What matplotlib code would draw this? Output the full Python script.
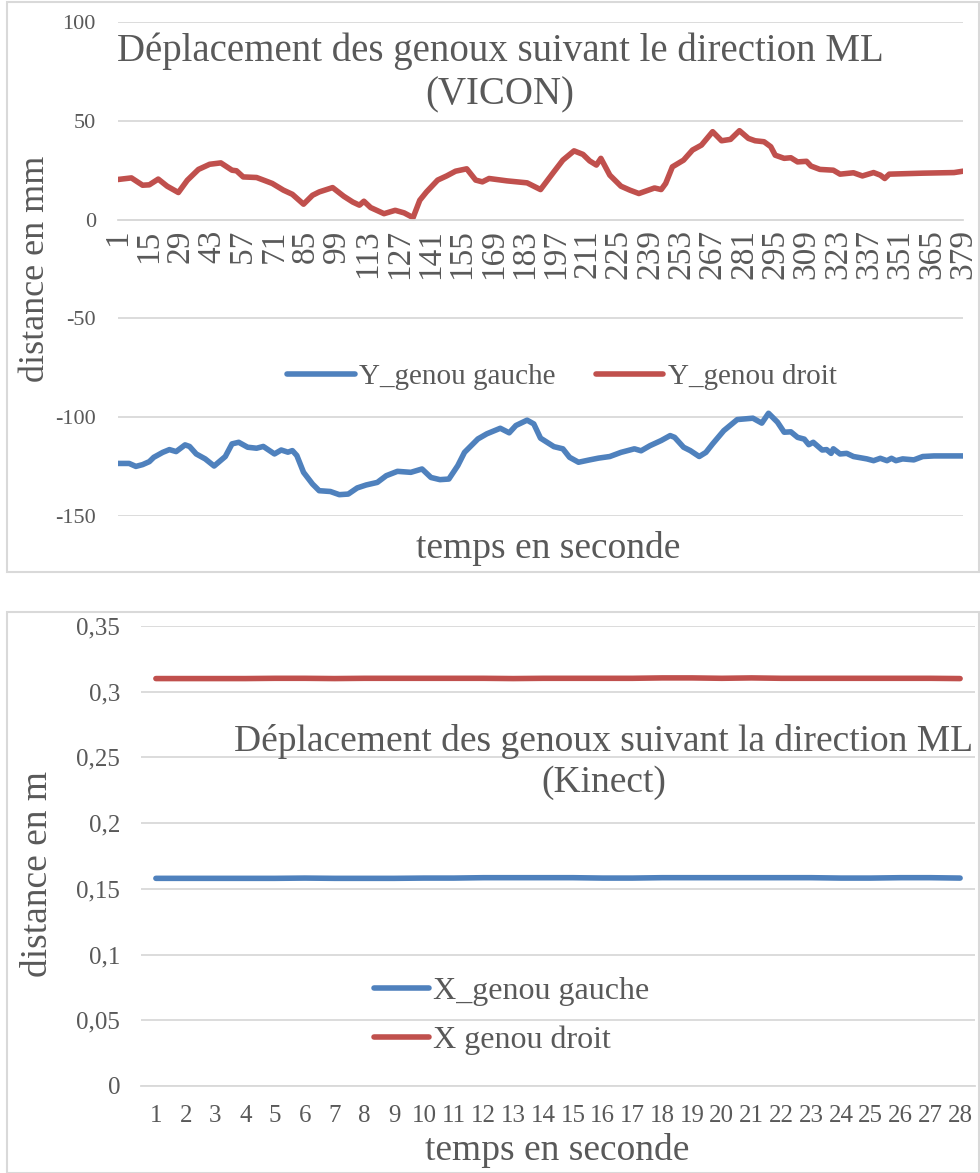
import matplotlib
matplotlib.use("Agg")
import matplotlib.pyplot as plt
from matplotlib.patches import Rectangle

# ---------------- data ----------------
# VICON (top): sample index -> displacement (mm)
vicon_idx_droit = [1, 7, 12, 15, 19, 23, 28, 32, 37, 42, 47, 52, 54, 57, 63, 67, 70, 75, 79, 84,
                   88, 91, 97, 102, 106, 109, 111, 114, 120, 125, 129, 133, 136, 139, 144, 148, 152, 157, 161, 164,
                   167, 175, 184, 190, 196, 200, 205, 209, 212, 215, 217, 221, 226, 230, 234, 237, 241, 244, 246, 249,
                   254, 258, 262, 267, 271, 275, 279, 283, 286, 290, 293, 295, 299, 302, 305, 309, 311, 315, 321, 324,
                   330, 334, 339, 342, 344, 346, 361, 375, 379]
vicon_droit = [20.3, 21.1, 17.4, 17.6, 20.5, 16.9, 13.7, 19.9, 25.4, 28.0, 28.7, 25.0, 24.7, 21.6, 21.3, 19.6, 18.3, 14.9, 12.8, 7.8,
               12.3, 14.0, 16.2, 11.8, 8.9, 7.3, 9.3, 6.1, 3.0, 4.7, 3.4, 1.0, 9.8, 14.0, 20.0, 22.1, 24.5, 25.7, 20.0, 19.1,
               20.8, 19.6, 18.6, 15.2, 24.2, 30.1, 34.8, 33.0, 29.7, 27.6, 31.0, 22.5, 16.9, 14.9, 13.2, 14.4, 16.0, 15.2, 18.3, 26.7,
               30.1, 35.2, 37.7, 44.5, 39.9, 40.6, 45.0, 41.1, 39.9, 39.4, 36.9, 32.6, 31.0, 31.3, 29.2, 29.5, 27.1, 25.4, 25.0, 23.0,
               23.7, 22.1, 23.8, 22.5, 20.8, 23.0, 23.5, 23.8, 24.5]

vicon_idx_gauche = [1, 6, 9, 12, 15, 17, 21, 24, 27, 31, 33, 36, 40, 44, 49, 52, 55, 59, 63, 66,
                    71, 74, 77, 79, 81, 84, 88, 91, 96, 100, 104, 108, 112, 117, 121, 126, 132, 137, 141, 145,
                    149, 153, 156, 162, 166, 172, 176, 179, 184, 187, 190, 196, 200, 203, 207, 212, 216, 221, 226, 232,
                    235, 239, 244, 248, 250, 254, 257, 261, 264, 267, 272, 278, 285, 289, 292, 296, 299, 302, 305, 308,
                    310, 312, 316, 318, 320, 321, 324, 327, 330, 336, 339, 342, 345, 347, 349, 352, 357, 361, 366, 379]
vicon_gauche = [-123.4, -123.4, -124.9, -124.0, -122.5, -120.3, -117.8, -116.4, -117.4, -114.0,
                -114.8, -118.6, -121.1, -124.7, -119.9, -113.5, -112.7, -115.2, -115.7, -114.8,
                -118.6, -116.6, -117.7, -116.9, -119.4, -127.9, -133.8, -137.2, -137.6, -139.2,
                -138.9, -135.8, -134.3, -133.0, -129.6, -127.4, -127.9, -126.2, -130.5, -131.6,
                -131.3, -124.5, -117.8, -111.0, -108.4, -105.6, -107.9, -104.2, -101.5, -103.4,
                -110.6, -114.9, -116.0, -120.3, -122.8, -121.6, -120.7, -119.9, -117.8, -116.0,
                -117.0, -114.4, -111.8, -109.3, -110.2, -115.2, -116.9, -119.9, -117.8, -113.5,
                -106.8, -101.2, -100.5, -103.0, -98.0, -102.5, -107.6, -107.4, -110.2, -111.1,
                -113.9, -112.7, -116.6, -116.4, -118.3, -116.0, -118.6, -118.3, -119.9, -121.1,
                -122.0, -120.8, -122.0, -120.8, -122.0, -121.1, -121.6, -119.9, -119.6, -119.6]

vicon_xticks = list(range(1, 380, 14))
vicon_yticks = [100, 50, 0, -50, -100, -150]
vicon_yticklabels = ["100", "50", "0", "-50", "-100", "-150"]

# Kinect (bottom): seconds -> displacement (m)
kinect_t = list(range(1, 29))
kinect_gauche = [0.158, 0.158, 0.158, 0.158, 0.158, 0.1582, 0.158, 0.158, 0.158, 0.1582,
                 0.1582, 0.1585, 0.1585, 0.1585, 0.1585, 0.1582, 0.1582, 0.1585, 0.1585, 0.1585,
                 0.1585, 0.1585, 0.1585, 0.1582, 0.1582, 0.1585, 0.1585, 0.1582]
kinect_droit = [0.310, 0.310, 0.310, 0.310, 0.3102, 0.3102, 0.310, 0.3102, 0.3102, 0.3102,
                0.3102, 0.3102, 0.310, 0.3102, 0.3102, 0.3102, 0.3102, 0.3105, 0.3105, 0.3102,
                0.3105, 0.3102, 0.3102, 0.3102, 0.3102, 0.3102, 0.3102, 0.3100]
kinect_yticks = [0, 0.05, 0.1, 0.15, 0.2, 0.25, 0.3, 0.35]
kinect_yticklabels = ["0", "0,05", "0,1", "0,15", "0,2", "0,25", "0,3", "0,35"]

# ---------------- style ----------------
plt.rcParams['font.family'] = ['Liberation Serif', 'DejaVu Serif']
TXT = '#595959'
GRID = '#d9d9d9'
BLUE = '#4f81bd'
RED = '#c0504d'
LW = 4.0
W, H = 980, 1173

fig = plt.figure(figsize=(W / 100, H / 100), dpi=100)

# panel borders
fig.patches.append(Rectangle((7 / W, 1 - 572 / H), 972 / W, 570 / H, transform=fig.transFigure,
                             fill=False, edgecolor=GRID, lw=1.5))
fig.patches.append(Rectangle((7 / W, 0.0), 972 / W, 1 - 612 / H, transform=fig.transFigure,
                             fill=False, edgecolor=GRID, lw=1.5))

# ---------------- top chart ----------------
ax1 = fig.add_axes([118 / W, 1 - 516 / H, 845 / W, 494 / H])
for s in ['top', 'right', 'left']:
    ax1.spines[s].set_visible(False)
ax1.spines['bottom'].set_position(('data', 0))
ax1.spines['bottom'].set_color(GRID)
ax1.spines['bottom'].set_linewidth(1.3)
ax1.plot(vicon_idx_gauche, vicon_gauche, color=BLUE, lw=LW, solid_joinstyle='round',
         solid_capstyle='round', label='Y_genou gauche')
ax1.plot(vicon_idx_droit, vicon_droit, color=RED, lw=LW, solid_joinstyle='round',
         solid_capstyle='round', label='Y_genou droit')
ax1.set_xlim(1, 379)
ax1.set_ylim(-150, 100)
ax1.set_yticks(vicon_yticks)
ax1.set_yticklabels(vicon_yticklabels)
ax1.set_xticks(vicon_xticks)
ax1.set_xticklabels([str(v) for v in vicon_xticks])
ax1.grid(axis='y', color=GRID, lw=1.3)
ax1.set_axisbelow(True)
ax1.tick_params(axis='y', length=0, pad=16, labelsize=16, labelcolor=TXT)
ax1.tick_params(axis='x', length=0, pad=7, labelsize=24, labelcolor=TXT, labelrotation=90)
for lab in ax1.get_xticklabels():
    lab.set_va('top')
    lab.set_ha('center')
ax1.text(0.452, 0.897, "Déplacement des genoux suivant le direction ML\n(VICON)",
         transform=ax1.transAxes, ha='center', va='center', fontsize=28, color=TXT,
         linespacing=1.25)
ax1.set_ylabel("distance en mm", fontsize=26, color=TXT)
ax1.yaxis.set_label_coords((35 - 118) / 845, 0.5)
ax1.yaxis.label.set_va('center')
ax1.set_xlabel("temps en seconde", fontsize=27, color=TXT)
ax1.xaxis.set_label_coords((548 - 118) / 845, (516 - 548) / 494)
ax1.xaxis.label.set_va('center')
leg1 = ax1.legend(loc='center', bbox_to_anchor=((562 - 118) / 845, (516 - 377) / 494), ncol=2,
                  frameon=False, fontsize=21, handlelength=2.3, handletextpad=0.15,
                  columnspacing=1.4, labelcolor=TXT)

# ---------------- bottom chart ----------------
ax2 = fig.add_axes([141 / W, 1 - 1086 / H, 834 / W, 460 / H])
ax2.plot(kinect_t, kinect_gauche, color=BLUE, lw=LW, solid_capstyle='round', label='X_genou gauche')
ax2.plot(kinect_t, kinect_droit, color=RED, lw=LW, solid_capstyle='round', label='X genou droit')
ax2.set_xlim(0.5, 28.5)
ax2.set_ylim(0, 0.35)
ax2.set_yticks(kinect_yticks)
ax2.set_yticklabels(kinect_yticklabels)
ax2.set_xticks(kinect_t)
ax2.set_xticklabels([str(v) for v in kinect_t])
ax2.grid(axis='y', color=GRID, lw=1.3)
ax2.set_axisbelow(True)
for s in ['top', 'right', 'left']:
    ax2.spines[s].set_visible(False)
ax2.spines['bottom'].set_color(GRID)
ax2.spines['bottom'].set_linewidth(1.3)
ax2.tick_params(axis='y', length=0, pad=15, labelsize=18, labelcolor=TXT)
ax2.tick_params(axis='x', length=0, pad=14, labelsize=18, labelcolor=TXT)
ax2.text((604 - 141) / 834, (1086 - 762) / 460, "Déplacement des genoux suivant la direction ML\n(Kinect)",
         transform=ax2.transAxes, ha='center', va='center', fontsize=27, color=TXT, linespacing=1.25)
ax2.set_ylabel("distance en m", fontsize=27, color=TXT)
ax2.yaxis.set_label_coords((38 - 141) / 834, 0.46)
ax2.yaxis.label.set_va('center')
ax2.set_xlabel("temps en seconde", fontsize=27, color=TXT)
ax2.xaxis.set_label_coords((557 - 141) / 834, (1086 - 1150) / 460)
ax2.xaxis.label.set_va('center')
leg2 = ax2.legend(loc='center', bbox_to_anchor=((512 - 141) / 834, (1086 - 1016) / 460), ncol=1,
                  frameon=False, fontsize=23, handlelength=1.7, handletextpad=0.15,
                  labelspacing=0.6, labelcolor=TXT)

fig.savefig("out.png", dpi=100)
